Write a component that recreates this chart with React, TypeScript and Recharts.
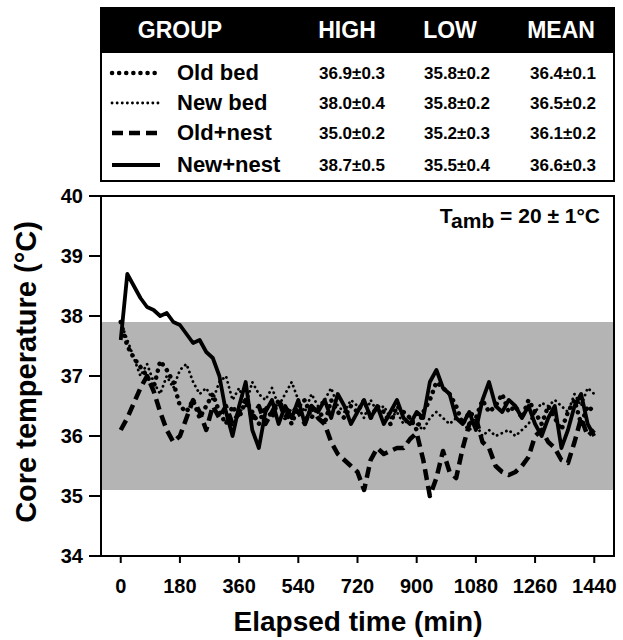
import React from 'react';
import { LineChart, Line, XAxis, YAxis, ReferenceArea } from 'recharts';

const FONT = "'Liberation Sans', Arial, Helvetica, sans-serif";

// sampling every 20 min over 24 h
const TIMES = Array.from({ length: 73 }, (_, i) => i * 20);

const OLD_BED = [
  37.9, 37.5, 37.3, 37.15, 37.0, 36.8, 37.25, 37.1, 36.9, 36.5,
  36.4, 36.6, 36.3, 36.5, 36.7, 36.4, 36.2, 36.5, 36.3, 36.6,
  36.4, 36.2, 36.5, 36.3, 36.6, 36.4, 36.2, 36.5, 36.6, 36.3,
  36.5, 36.2, 36.6, 36.4, 36.3, 36.5, 36.4, 36.6, 36.3, 36.5,
  36.4, 36.2, 36.5, 36.4, 36.3, 36.1, 36.4, 36.6, 36.9, 36.8,
  36.7, 36.5, 36.2, 36.4, 36.3, 36.6, 36.4, 36.5, 36.7, 36.4,
  36.5, 36.3, 36.6, 36.4, 36.2, 36.5, 36.3, 36.1, 36.4, 36.6,
  36.2, 36.5, 36.4,
];

const NEW_BED = [
  37.9, 37.6, 37.3, 37.0, 37.2, 36.9, 36.7, 37.0, 36.8, 37.1,
  37.2, 36.9, 36.7, 36.8, 36.6, 36.9, 37.0, 36.6, 36.8, 36.5,
  36.9, 36.7, 36.6, 36.8, 36.5, 36.7, 36.9, 36.6, 36.4, 36.7,
  36.5, 36.6, 36.8, 36.5, 36.4, 36.6, 36.5, 36.3, 36.6, 36.4,
  36.5, 36.3, 36.4, 36.2, 36.3, 36.2, 36.1, 36.3, 36.4, 36.3,
  36.2, 36.3, 36.2, 36.1, 36.2, 36.0, 36.1, 36.0, 36.05, 36.1,
  36.0, 36.1, 36.2, 36.4, 36.55, 36.5, 36.6, 36.5, 36.4, 36.7,
  36.5, 36.8, 36.7,
];

const OLD_NEST = [
  36.1, 36.3, 36.55, 36.8, 37.0, 36.75, 36.4, 36.1, 35.9, 36.0,
  36.3, 36.6, 36.4, 36.1, 36.5, 36.3, 36.5, 36.2, 36.4, 36.6,
  36.3, 36.5, 36.2, 36.4, 36.6, 36.3, 36.5, 36.4, 36.2, 36.5,
  36.3, 36.2, 35.9, 35.7, 35.6, 35.5, 35.4, 35.1, 35.6, 35.8,
  35.7, 35.75, 35.8, 35.8, 35.95, 36.05, 35.6, 35.0, 35.3, 35.75,
  35.4, 35.3, 35.8, 36.2, 36.3, 35.9, 35.8, 35.5, 35.4, 35.35,
  35.4, 35.5, 35.65, 36.0, 36.1, 35.9, 35.8, 35.6, 35.55, 35.9,
  36.3, 36.0, 36.1,
];

const NEW_NEST = [
  37.6, 38.7, 38.5, 38.3, 38.15, 38.1, 38.0, 38.05, 37.9, 37.85,
  37.7, 37.55, 37.6, 37.4, 37.3, 37.0, 36.4, 36.0, 36.5, 36.9,
  36.1, 35.8, 36.4, 36.6, 36.2, 36.5, 36.3, 36.6, 36.2, 36.5,
  36.4, 36.6, 36.3, 36.7, 36.5, 36.2, 36.4, 36.6, 36.3, 36.5,
  36.2, 36.4, 36.6, 36.3, 36.2, 36.4, 36.3, 36.9, 37.1, 36.8,
  36.7, 36.3, 36.2, 36.4, 36.1, 36.6, 36.9, 36.5, 36.4, 36.6,
  36.5, 36.3, 36.5, 36.2, 36.0, 36.3, 36.5, 35.8, 36.1, 36.5,
  36.7, 36.2, 36.0,
];

const X_TICKS = [0, 180, 360, 540, 720, 900, 1080, 1260, 1440];
const Y_TICKS = [34, 35, 36, 37, 38, 39, 40];

// normal range band
const BAND = [35.1, 37.9];

const GROUPS = ['Old bed', 'New bed', 'Old+nest', 'New+nest'];
const HIGH = ['36.9±0.3', '38.0±0.4', '35.0±0.2', '38.7±0.5'];
const LOW = ['35.8±0.2', '35.8±0.2', '35.2±0.3', '35.5±0.4'];
const MEAN = ['36.4±0.1', '36.5±0.2', '36.1±0.2', '36.6±0.3'];

const data = TIMES.map((t, i) => ({
  t,
  oldBed: OLD_BED[i],
  newBed: NEW_BED[i],
  oldNest: OLD_NEST[i],
  newNest: NEW_NEST[i],
}));

const STYLES: Record<string, { width: number; dash?: string }> = {
  'Old bed': { width: 4.5, dash: '0.1 7' },
  'New bed': { width: 2.8, dash: '0.1 5' },
  'Old+nest': { width: 4.5, dash: '11 6' },
  'New+nest': { width: 3.8 },
};

const Centered: React.FC<{ x: number; y: number; size: number; color?: string; children: React.ReactNode }> = ({ x, y, size, color = '#000', children }) => (
  <span
    style={{
      position: 'absolute',
      left: x,
      top: y,
      transform: 'translate(-50%, -50%)',
      fontSize: size,
      lineHeight: 1,
      fontWeight: 700,
      color,
      whiteSpace: 'nowrap',
    }}
  >
    {children}
  </span>
);

const rowY = [73, 103, 133, 165];

const Table: React.FC = () => (
  <div
    style={{
      position: 'absolute',
      left: 100,
      top: 7,
      width: 515,
      height: 175,
      border: '2px solid #000',
      boxSizing: 'border-box',
    }}
  >
    <div style={{ position: 'absolute', left: 0, top: 0, right: 0, height: 44, background: '#000' }} />
  </div>
);

export default function App() {
  const s = STYLES;
  return (
    <div style={{ position: 'absolute', left: 0, top: 0, width: 623, height: 640, background: '#fff', fontFamily: FONT }}>
      <LineChart width={623} height={640} data={data} margin={{ top: 196, right: 9, bottom: 24, left: 41 }}>
        <ReferenceArea y1={BAND[0]} y2={BAND[1]} x1={-60} x2={1500} fill="#b4b4b4" fillOpacity={1} stroke="none" ifOverflow="visible" />
        <ReferenceArea y1={34} y2={40} x1={-60} x2={1500} fill="none" stroke="#000" strokeWidth={2} ifOverflow="visible" />
        <XAxis
          dataKey="t"
          type="number"
          domain={[-60, 1500]}
          ticks={X_TICKS}
          height={60}
          tickSize={7}
          tickMargin={16}
          stroke="#000"
          strokeWidth={2}
          tick={{ fill: '#000', fontSize: 20, fontWeight: 700, fontFamily: FONT }}
          allowDataOverflow
        />
        <YAxis
          type="number"
          domain={[34, 40]}
          ticks={Y_TICKS}
          width={60}
          tickSize={12}
          tickMargin={6}
          stroke="#000"
          strokeWidth={2}
          tick={{ fill: '#000', fontSize: 20, fontWeight: 700, fontFamily: FONT }}
        />
        <Line dataKey="newBed" stroke="#000" strokeWidth={s['New bed'].width} strokeDasharray={s['New bed'].dash} strokeLinecap="round" strokeLinejoin="round" dot={false} isAnimationActive={false} />
        <Line dataKey="oldBed" stroke="#000" strokeWidth={s['Old bed'].width} strokeDasharray={s['Old bed'].dash} strokeLinecap="round" strokeLinejoin="round" dot={false} isAnimationActive={false} />
        <Line dataKey="oldNest" stroke="#000" strokeWidth={s['Old+nest'].width} strokeDasharray={s['Old+nest'].dash} strokeLinejoin="round" dot={false} isAnimationActive={false} />
        <Line dataKey="newNest" stroke="#000" strokeWidth={s['New+nest'].width} strokeLinejoin="round" dot={false} isAnimationActive={false} />
      </LineChart>

      <svg width={623} height={640} style={{ position: 'absolute', left: 0, top: 0, pointerEvents: 'none' }}>
        <text x={36} y={372} transform="rotate(-90 36 372)" textAnchor="middle" fontSize={29} fontWeight={700} fontFamily={FONT}>
          Core temperature (°C)
        </text>
        <text x={358} y={631} textAnchor="middle" fontSize={28} fontWeight={700} fontFamily={FONT}>
          Elapsed time (min)
        </text>
        <text x={600} y={223} textAnchor="end" fontSize={21} fontWeight={700} fontFamily={FONT}>
          T<tspan dy={5}>amb</tspan>
          <tspan dy={-5}> = 20 ± 1°C</tspan>
        </text>
        {GROUPS.map((g, i) => {
          const st = STYLES[g];
          return (
            <line
              key={g}
              x1={112}
              x2={160}
              y1={rowY[i]}
              y2={rowY[i]}
              stroke="#000"
              strokeWidth={st.width}
              strokeDasharray={st.dash}
              strokeLinecap={st.dash && st.dash.startsWith('0.1') ? 'round' : 'butt'}
            />
          );
        })}
      </svg>

      <Table />
      <Centered x={180} y={30} size={23} color="#fff">GROUP</Centered>
      <Centered x={347} y={30} size={23} color="#fff">HIGH</Centered>
      <Centered x={450} y={30} size={23} color="#fff">LOW</Centered>
      <Centered x={561} y={30} size={23} color="#fff">MEAN</Centered>
      {GROUPS.map((g, i) => (
        <React.Fragment key={g}>
          <span
            style={{
              position: 'absolute',
              left: 177,
              top: rowY[i],
              transform: 'translateY(-50%)',
              fontSize: 22,
              lineHeight: 1,
              fontWeight: 700,
              whiteSpace: 'nowrap',
            }}
          >
            {g}
          </span>
          <Centered x={352} y={rowY[i]} size={17}>{HIGH[i]}</Centered>
          <Centered x={457} y={rowY[i]} size={17}>{LOW[i]}</Centered>
          <Centered x={563} y={rowY[i]} size={17}>{MEAN[i]}</Centered>
        </React.Fragment>
      ))}
    </div>
  );
}
